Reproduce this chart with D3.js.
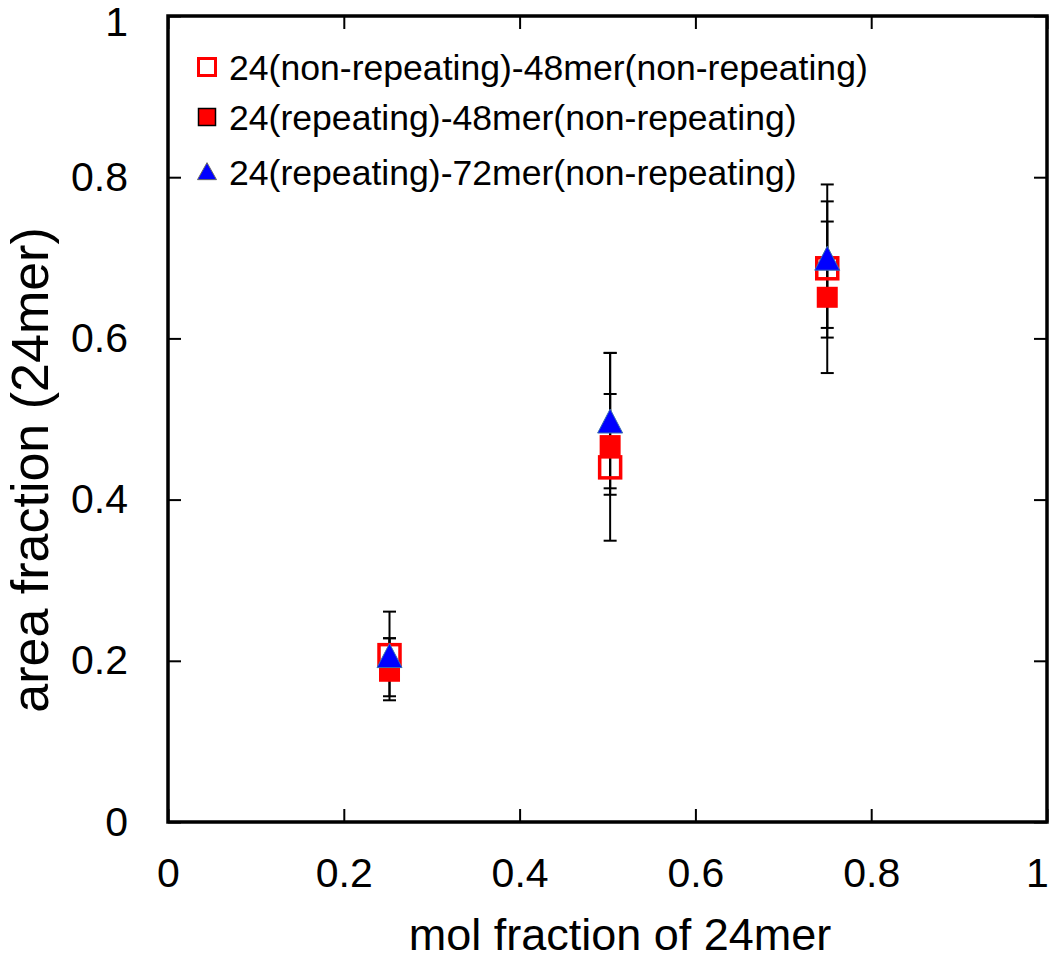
<!DOCTYPE html>
<html>
<head>
<meta charset="utf-8">
<script src="https://cdn.jsdelivr.net/npm/d3@7"></script>
<style>
  html, body { margin: 0; padding: 0; background: #fff; }
  svg { display: block; }
  text { font-family: "Liberation Sans", Arial, sans-serif; fill: #000; }
</style>
</head>
<body>
<svg id="chart" width="1050" height="961"></svg>
<script>
// ---- data ----
const seriesNames = [
  "24(non-repeating)-48mer(non-repeating)",
  "24(repeating)-48mer(non-repeating)",
  "24(repeating)-72mer(non-repeating)"
];
const molFraction = [0.252, 0.503, 0.750];

const openSqY   = [0.207, 0.440, 0.687];
const openSqLo  = [0.156, 0.406, 0.601];
const openSqHi  = [0.261, 0.531, 0.770];

const fillSqY   = [0.187, 0.467, 0.651];
const fillSqLo  = [0.151, 0.349, 0.557];
const fillSqHi  = [0.228, 0.582, 0.745];

const triY      = [0.205, 0.496, 0.698];
const triLo     = [0.185, 0.414, 0.613];
const triHi     = [0.228, 0.582, 0.791];

const xTicks = [0, 0.2, 0.4, 0.6, 0.8, 1];
const yTicks = [0, 0.2, 0.4, 0.6, 0.8, 1];
const xTickLabels = ["0", "0.2", "0.4", "0.6", "0.8", "1"];
const yTickLabels = ["0", "0.2", "0.4", "0.6", "0.8", "1"];
const xTitle = "mol fraction of 24mer";
const yTitle = "area fraction (24mer)";

// ---- layout ----
const L = 168, R = 1047, T = 16, B = 822;
const svg = d3.select("#chart");
const x = d3.scaleLinear().domain([0, 1]).range([L, R]);
const y = d3.scaleLinear().domain([0, 1]).range([B, T]);

const tickLen = 13;
// bottom axis
svg.append("g").attr("transform", `translate(0,${B})`)
  .call(d3.axisBottom(x).tickValues(xTicks).tickFormat((d, i) => xTickLabels[i])
        .tickSizeInner(-tickLen).tickSizeOuter(0).tickPadding(36))
  .call(g => g.select(".domain").remove())
  .call(g => g.selectAll("line").attr("stroke", "#000").attr("stroke-width", 2))
  .call(g => g.selectAll("text").attr("font-size", 41).attr("font-family", "Liberation Sans, Arial, sans-serif"))
  .call(g => g.selectAll("text").filter(d => d === 1).attr("dx", -10));
// top mirror ticks
svg.append("g").attr("transform", `translate(0,${T})`)
  .call(d3.axisTop(x).tickValues(xTicks).tickFormat("").tickSizeInner(-tickLen).tickSizeOuter(0))
  .call(g => g.select(".domain").remove())
  .call(g => g.selectAll("line").attr("stroke", "#000").attr("stroke-width", 2));
// left axis
svg.append("g").attr("transform", `translate(${L},0)`)
  .call(d3.axisLeft(y).tickValues(yTicks).tickFormat((d, i) => yTickLabels[i])
        .tickSizeInner(-tickLen).tickSizeOuter(0).tickPadding(40))
  .call(g => g.select(".domain").remove())
  .call(g => g.selectAll("line").attr("stroke", "#000").attr("stroke-width", 2))
  .call(g => g.selectAll("text").attr("font-size", 41).attr("font-family", "Liberation Sans, Arial, sans-serif"))
  .call(g => g.selectAll("text").filter(d => d === 1).attr("dy", "0.48em"));
// right mirror ticks
svg.append("g").attr("transform", `translate(${R},0)`)
  .call(d3.axisRight(y).tickValues(yTicks).tickFormat("").tickSizeInner(-tickLen).tickSizeOuter(0))
  .call(g => g.select(".domain").remove())
  .call(g => g.selectAll("line").attr("stroke", "#000").attr("stroke-width", 2));

// frame
svg.append("rect").attr("x", L).attr("y", T).attr("width", R - L).attr("height", B - T)
  .attr("fill", "none").attr("stroke", "#000").attr("stroke-width", 3.5);

// titles
svg.append("text").attr("x", 620).attr("y", 950).attr("text-anchor", "middle")
  .attr("font-size", 45).text(xTitle);
svg.append("text").attr("transform", `translate(48,470) rotate(-90)`).attr("text-anchor", "middle")
  .attr("font-size", 52).text(yTitle);

// error bars
const cap = 6.5;
function errorBars(ys, lo, hi) {
  const g = svg.append("g").attr("stroke", "#000").attr("stroke-width", 2);
  molFraction.forEach((m, i) => {
    const cx = x(m);
    g.append("line").attr("x1", cx).attr("x2", cx).attr("y1", y(lo[i])).attr("y2", y(hi[i]));
    g.append("line").attr("x1", cx - cap).attr("x2", cx + cap).attr("y1", y(lo[i])).attr("y2", y(lo[i]));
    g.append("line").attr("x1", cx - cap).attr("x2", cx + cap).attr("y1", y(hi[i])).attr("y2", y(hi[i]));
  });
}
errorBars(openSqY, openSqLo, openSqHi);
errorBars(fillSqY, fillSqLo, fillSqHi);
errorBars(triY, triLo, triHi);

// markers
const sq = 21;
svg.append("g").selectAll("rect").data(fillSqY).join("rect")
  .attr("x", (d, i) => x(molFraction[i]) - sq / 2).attr("y", d => y(d) - sq / 2)
  .attr("width", sq).attr("height", sq).attr("fill", "#ff0000");
svg.append("g").selectAll("rect").data(openSqY).join("rect")
  .attr("x", (d, i) => x(molFraction[i]) - sq / 2).attr("y", d => y(d) - sq / 2)
  .attr("width", sq).attr("height", sq).attr("fill", "none").attr("stroke", "#ff0000").attr("stroke-width", 3.5);
const triPath = (cx, cy, w, h) => `M${cx},${cy - h * 0.55}L${cx + w / 2},${cy + h * 0.45}L${cx - w / 2},${cy + h * 0.45}Z`;
svg.append("g").selectAll("path").data(triY).join("path")
  .attr("d", (d, i) => triPath(x(molFraction[i]), y(d), 25, 24))
  .attr("fill", "#0000ff").attr("stroke", "#3a6fb0").attr("stroke-width", 1);

// legend
const lg = svg.append("g");
const legRows = [67, 117, 172];
const lx = 207, ls = 17;
lg.append("rect").attr("x", lx - ls / 2).attr("y", legRows[0] - ls / 2).attr("width", ls).attr("height", ls)
  .attr("fill", "#fff").attr("stroke", "#ff0000").attr("stroke-width", 3);
lg.append("rect").attr("x", lx - ls / 2).attr("y", legRows[1] - ls / 2).attr("width", ls).attr("height", ls)
  .attr("fill", "#ff0000").attr("stroke", "#000").attr("stroke-width", 1.5);
lg.append("path").attr("d", triPath(lx, legRows[2], 19, 17))
  .attr("fill", "#0000ff").attr("stroke", "#666").attr("stroke-width", 1);
seriesNames.forEach((s, i) => {
  lg.append("text").attr("x", 229).attr("y", legRows[i]).attr("dy", "0.36em")
    .attr("font-size", 35.6).text(s);
});
</script>
</body>
</html>
